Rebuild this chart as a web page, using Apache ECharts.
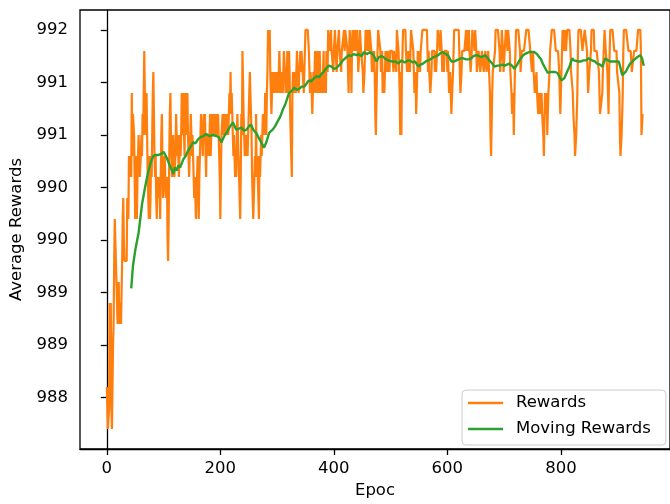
<!DOCTYPE html>
<html>
<head>
<meta charset="utf-8">
<script src="https://cdn.jsdelivr.net/npm/echarts@6/dist/echarts.min.js"></script>
<style>
html,body{margin:0;padding:0;background:#fff;}
#chart{width:670px;height:504px;}
</style>
</head>
<body>
<div id="chart"></div>
<script>
// Rewards per epoch (index = epoch)
const rewards = [
988.35,988.35,987.95,987.95,988.15,989.15,988.55,989.15,988.15,987.95,
987.95,988.75,988.95,989.55,989.95,989.95,989.55,989.35,989.35,988.95,
988.95,989.35,988.95,988.95,989.15,988.95,988.95,989.55,989.95,990.15,
989.75,989.55,989.55,989.55,989.55,989.55,990.15,990.15,989.95,990.55,
990.35,990.35,990.55,990.35,991.15,990.55,990.95,990.95,990.75,990.35,
989.95,990.55,990.35,989.95,990.35,990.55,990.75,990.55,990.35,990.35,
990.55,990.75,990.55,990.95,990.75,991.15,991.55,991.15,990.75,990.95,
991.15,990.75,990.35,990.15,989.95,990.55,989.95,990.15,990.55,990.35,
990.75,991.15,991.35,990.95,990.55,990.35,990.55,990.15,989.95,990.35,
990.35,990.15,990.35,990.15,989.95,990.35,990.75,990.95,990.55,990.15,
990.15,990.35,990.55,990.35,990.15,990.15,990.35,989.75,989.55,989.95,
990.55,990.95,991.15,990.75,990.55,990.35,990.55,990.75,990.55,990.35,
990.35,990.55,990.95,990.75,990.55,990.75,990.55,990.35,990.55,990.75,
990.55,990.75,991.15,990.75,990.95,991.15,990.75,990.55,991.15,990.75,
991.15,990.95,991.15,990.75,990.55,990.35,990.55,990.75,990.95,990.75,
990.55,990.75,990.55,990.35,990.15,990.35,990.15,989.95,989.95,990.35,
990.55,990.35,989.95,990.35,990.55,990.75,990.95,990.95,990.75,990.55,
990.75,990.95,990.75,990.95,990.55,990.35,990.75,990.75,990.55,990.75,
990.55,990.75,990.95,990.55,990.75,990.95,990.75,990.95,990.75,990.95,
990.95,990.75,990.95,990.95,990.75,990.75,990.95,990.75,990.55,990.35,
989.95,990.35,990.75,990.75,990.95,990.75,990.95,990.95,990.75,990.95,
990.95,990.75,990.95,990.95,990.75,990.95,991.15,990.95,991.35,990.95,
991.15,990.95,990.75,990.55,990.75,990.55,990.35,990.55,990.35,990.75,
990.95,990.75,990.55,990.35,990.15,989.95,990.35,990.95,990.75,991.55,
991.55,990.95,990.75,990.55,990.75,990.55,990.55,990.75,990.55,990.75,
990.95,991.15,991.35,991.35,990.95,990.75,990.35,990.15,989.95,989.95,
990.35,990.55,990.35,990.95,990.35,990.55,990.35,990.15,989.95,990.55,
990.35,990.55,990.75,990.55,990.75,990.95,990.75,990.95,990.75,991.15,
990.95,990.75,991.15,991.35,991.75,991.75,991.55,991.75,991.35,991.15,
990.95,991.15,991.35,991.15,991.35,991.15,991.35,991.35,991.15,991.35,
991.15,991.35,991.15,991.35,991.55,991.35,991.15,991.35,991.15,991.35,
991.15,991.35,991.55,991.55,991.35,991.15,991.35,991.15,991.55,991.35,
991.15,991.55,991.35,990.95,990.75,990.55,990.35,991.15,991.35,991.15,
991.35,991.15,991.35,991.15,991.35,991.55,991.35,991.35,991.15,991.35,
991.35,991.55,991.35,991.55,991.55,991.35,991.35,991.15,991.35,991.55,
991.75,991.75,991.75,991.75,991.75,991.75,991.55,991.35,991.15,991.35,
991.35,991.15,990.95,991.15,991.35,991.15,991.35,991.55,991.35,991.15,
991.35,991.55,991.35,991.15,991.35,991.55,991.35,991.15,991.15,991.35,
991.15,991.15,991.55,991.15,991.15,991.35,991.15,991.55,991.55,991.35,
991.75,991.75,991.75,991.55,991.55,991.75,991.55,991.55,991.55,991.35,
991.55,991.55,991.75,991.55,991.55,991.35,991.55,991.55,991.55,991.75,
991.55,991.55,991.55,991.35,991.55,991.55,991.55,991.55,991.75,991.55,
991.75,991.75,991.75,991.75,991.55,991.35,991.15,991.55,991.75,991.75,
991.55,991.15,991.55,991.75,991.75,991.55,991.75,991.55,991.75,991.55,
991.55,991.75,991.55,991.35,991.35,991.55,991.75,991.75,991.55,991.55,
991.55,991.35,991.15,991.15,991.35,991.55,991.75,991.75,991.75,991.55,
991.75,991.75,991.55,991.75,991.75,991.75,991.55,991.35,991.55,991.35,
991.35,991.55,991.35,990.95,990.75,990.75,991.35,991.55,991.75,991.75,
991.75,991.75,991.55,991.35,991.35,991.55,991.15,991.15,991.35,991.15,
991.35,991.55,991.55,991.55,991.35,991.55,991.55,991.55,991.35,991.55,
991.55,991.55,991.55,991.55,991.55,991.35,991.55,991.55,991.55,991.55,
991.35,991.75,991.75,991.75,991.55,991.35,991.15,990.75,991.35,990.75,
991.35,991.55,991.75,991.75,991.75,991.75,991.75,991.55,991.55,991.35,
991.55,991.35,991.55,991.55,991.35,991.55,991.75,991.75,991.75,991.75,
991.55,991.35,991.15,991.15,991.35,990.95,991.15,991.35,991.55,991.35,
991.55,991.55,991.35,991.55,991.55,991.55,991.75,991.75,991.75,991.75,
991.75,991.75,991.75,991.75,991.75,991.55,991.35,991.55,991.35,991.35,
991.15,991.15,991.35,991.55,991.55,991.55,991.55,991.55,991.35,991.55,
991.35,991.35,991.55,991.75,991.75,991.75,991.75,991.55,991.75,991.75,
991.55,991.35,991.35,991.55,991.35,991.55,991.55,991.55,991.55,991.55,
991.35,991.55,991.35,991.15,991.15,991.35,991.15,990.95,990.95,990.95,
991.35,991.55,991.75,991.75,991.75,991.75,991.75,991.75,991.75,991.75,
991.75,991.55,991.35,991.15,991.15,991.35,991.55,991.55,991.55,991.55,
991.55,991.55,991.55,991.75,991.55,991.75,991.75,991.55,991.75,991.55,
991.55,991.35,991.35,991.55,991.75,991.75,991.75,991.75,991.55,991.75,
991.75,991.55,991.35,991.35,991.35,991.55,991.55,991.55,991.35,991.35,
991.35,991.55,991.55,991.55,991.35,991.35,991.35,991.55,991.55,991.35,
991.35,991.35,991.55,991.55,991.55,991.15,990.75,990.55,990.55,991.15,
991.35,991.35,991.35,991.35,991.55,991.75,991.75,991.75,991.75,991.75,
991.75,991.75,991.55,991.35,991.35,991.55,991.75,991.75,991.55,991.35,
991.35,991.55,991.55,991.75,991.75,991.75,991.55,991.75,991.75,991.75,
991.55,991.35,991.35,991.15,990.95,990.95,991.15,990.75,990.75,991.35,
991.55,991.75,991.75,991.75,991.75,991.75,991.75,991.75,991.55,991.35,
991.35,991.55,991.55,991.55,991.55,991.55,991.55,991.55,991.55,991.75,
991.75,991.75,991.75,991.75,991.75,991.75,991.55,991.55,991.55,991.35,
991.35,991.55,991.35,991.35,991.15,991.15,991.15,991.35,991.15,991.15,
990.95,991.15,990.95,991.15,991.15,990.95,991.15,990.95,990.95,990.75,
990.55,990.55,991.15,991.15,990.95,991.15,990.75,990.95,991.15,991.15,
991.35,991.55,991.55,991.55,991.75,991.75,991.75,991.75,991.75,991.75,
991.75,991.55,991.55,991.55,991.55,991.55,991.55,991.35,991.15,990.95,
990.95,991.35,991.55,991.75,991.75,991.75,991.55,991.75,991.75,991.55,
991.55,991.75,991.75,991.75,991.75,991.75,991.75,991.55,991.35,991.35,
991.35,991.15,990.95,990.95,990.75,990.55,990.55,990.75,990.75,991.15,
991.55,991.75,991.75,991.75,991.75,991.75,991.75,991.75,991.55,991.55,
991.55,991.55,991.75,991.75,991.75,991.75,991.55,991.35,991.15,991.15,
991.35,991.35,991.35,991.55,991.75,991.75,991.75,991.75,991.75,991.55,
991.55,991.55,991.55,991.55,991.55,991.55,991.55,991.35,991.15,990.95,
990.95,990.95,990.95,991.15,991.35,991.35,991.35,991.75,991.75,991.55,
991.55,991.55,991.35,991.15,990.95,991.35,991.55,991.75,991.75,991.75,
991.75,991.75,991.75,991.75,991.55,991.55,991.55,991.55,991.55,991.35,
991.35,991.35,991.35,991.15,990.75,990.55,990.55,990.75,990.75,991.15,
991.55,991.75,991.75,991.75,991.75,991.75,991.75,991.75,991.75,991.55,
991.55,991.55,991.55,991.55,991.55,991.35,991.35,991.35,991.35,991.55,
991.55,991.55,991.55,991.55,991.55,991.55,991.75,991.75,991.75,991.75,
991.75,991.55,990.75,990.75,990.95,990.95
];

// Moving average: epochs and values
const movingEpochs = [43,46,50,56,62,68,73,78,82,86,91,96,100,105,111,114,117,120,123,126,129,135,139,143,148,152,156,161,165,170,175,181,187,193,197,202,207,212,216,222,228,233,237,242,246,250,254,258,263,268,272,277,281,286,292,296,301,306,310,315,321,326,330,335,339,343,348,352,356,360,365,370,374,378,382,386,391,396,400,405,412,416,420,426,430,435,440,444,449,453,458,464,470,475,479,484,488,492,496,502,508,514,519,525,530,534,539,543,549,553,557,562,566,570,575,580,584,588,592,597,601,607,612,616,620,624,628,633,638,642,646,651,656,660,666,670,674,679,683,688,692,697,701,705,709,714,718,723,727,732,736,740,744,749,753,758,762,765,768,772,777,781,785,790,794,798,801,806,810,815,820,823,826,831,835,840,844,849,855,860,864,869,873,878,883,887,892,896,902,905,908,914,918,922,928,934,940,943,946];
const movingRewards = [989.29,989.50,989.65,989.82,990.09,990.27,990.40,990.50,990.55,990.56,990.56,990.57,990.59,990.54,990.46,990.42,990.38,990.44,990.41,990.46,990.44,990.52,990.55,990.60,990.64,990.68,990.67,990.71,990.73,990.74,990.76,990.74,990.75,990.74,990.73,990.68,990.74,990.78,990.82,990.87,990.80,990.81,990.82,990.79,990.80,990.83,990.85,990.80,990.77,990.72,990.68,990.63,990.68,990.77,990.80,990.83,990.88,990.93,990.99,991.05,991.15,991.17,991.20,991.18,991.19,991.21,991.21,991.24,991.27,991.26,991.29,991.31,991.30,991.33,991.35,991.38,991.41,991.40,991.38,991.39,991.43,991.46,991.48,991.51,991.50,991.52,991.51,991.52,991.50,991.54,991.52,991.54,991.51,991.45,991.49,991.50,991.49,991.47,991.46,991.45,991.45,991.43,991.46,991.44,991.46,991.46,991.44,991.45,991.40,991.42,991.43,991.45,991.46,991.47,991.49,991.50,991.51,991.53,991.54,991.52,991.51,991.45,991.45,991.46,991.47,991.48,991.48,991.47,991.47,991.48,991.50,991.51,991.50,991.49,991.51,991.49,991.46,991.43,991.40,991.41,991.41,991.42,991.41,991.42,991.43,991.41,991.38,991.42,991.46,991.50,991.52,991.53,991.54,991.54,991.54,991.52,991.49,991.47,991.43,991.39,991.34,991.35,991.35,991.35,991.34,991.30,991.27,991.29,991.34,991.40,991.48,991.46,991.45,991.45,991.45,991.46,991.46,991.48,991.46,991.45,991.43,991.42,991.40,991.48,991.46,991.45,991.45,991.45,991.45,991.39,991.32,991.35,991.39,991.43,991.46,991.49,991.51,991.48,991.41];

// Tick positions / labels
const xTickValues = [0, 200, 400, 600, 800];
const yTickValues = [988.25, 988.75, 989.25, 989.75, 990.25, 990.75, 991.25, 991.75];

const lastEpoch = rewards.length - 1;
const yLo = 987.95, yHi = 991.75;
const pad = (yHi - yLo) * 0.05;

const chart = echarts.init(document.getElementById('chart'), null, {renderer: 'canvas'});
const font = 'DejaVu Sans';
const fs = 16.5;
chart.setOption({
  animation: false,
  backgroundColor: '#ffffff',
  textStyle: {fontFamily: font},
  grid: {left: 80, top: 10, width: 595, height: 443, show: true, borderColor: '#000', borderWidth: 1.3, backgroundColor: 'transparent'},
  legend: {
    orient: 'vertical',
    left: 462, top: 390,
    data: ['Rewards', 'Moving Rewards'],
    icon: 'rect',
    itemWidth: 35, itemHeight: 2.4,
    itemGap: 8,
    padding: [4, 15, 7, 6],
    borderColor: '#cccccc', borderWidth: 1, borderRadius: 4,
    backgroundColor: 'rgba(255,255,255,0.8)',
    textStyle: {fontFamily: font, fontSize: fs, color: '#000', lineHeight: 18, padding: [0, 0, 0, 8]}
  },
  xAxis: {
    type: 'value',
    min: -0.05 * lastEpoch, max: lastEpoch * 1.05,
    name: 'Epoc', nameLocation: 'middle', nameGap: 33,
    nameTextStyle: {fontFamily: font, fontSize: fs, color: '#000'},
    axisLine: {lineStyle: {color: '#000', width: 1.3}},
    axisTick: {show: true, length: 6, lineStyle: {color: '#000', width: 1.3}, customValues: xTickValues},
    axisLabel: {fontFamily: font, fontSize: fs, color: '#000', margin: 11, customValues: xTickValues},
    splitLine: {show: false}
  },
  yAxis: {
    type: 'value',
    min: yLo - pad, max: yHi + pad,
    name: 'Average Rewards', nameLocation: 'middle', nameGap: 54,
    nameTextStyle: {fontFamily: font, fontSize: fs, color: '#000'},
    axisLine: {show: true, lineStyle: {color: '#000', width: 1.3}},
    axisTick: {show: true, length: 6, lineStyle: {color: '#000', width: 1.3}, customValues: yTickValues},
    axisLabel: {fontFamily: font, fontSize: fs, color: '#000', margin: 12, customValues: yTickValues,
      formatter: v => String(Math.round(v))},
    splitLine: {show: false}
  },
  series: [
    {
      name: 'Rewards', type: 'line', showSymbol: false, symbol: 'none',
      data: rewards.map((v, i) => [i, v]),
      lineStyle: {color: '#ff7f0e', width: 2.2},
      itemStyle: {color: '#ff7f0e'},
      z: 2
    },
    {
      name: 'Moving Rewards', type: 'line', showSymbol: false, symbol: 'none',
      data: movingEpochs.map((e, i) => [e, movingRewards[i]]),
      lineStyle: {color: '#2ca02c', width: 2.4},
      itemStyle: {color: '#2ca02c'},
      z: 3
    }
  ]
});
</script>
</body>
</html>
